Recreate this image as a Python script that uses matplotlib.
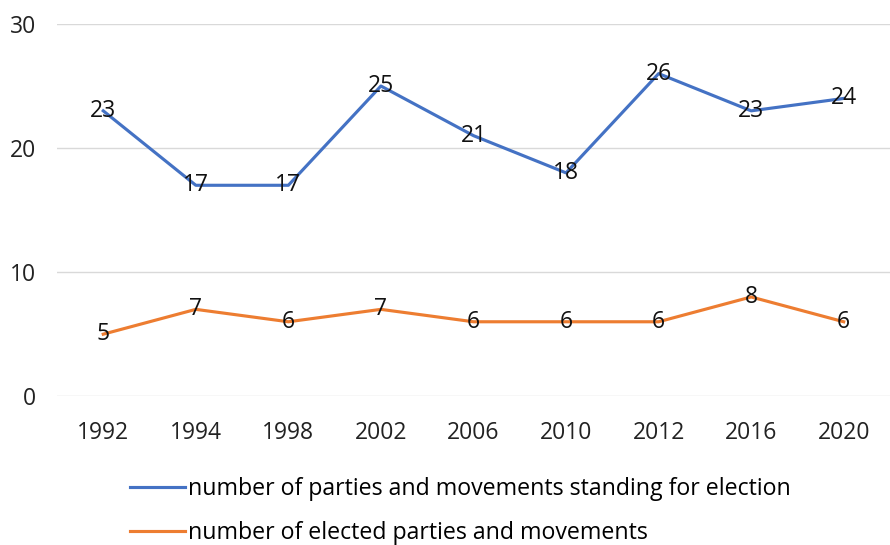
import matplotlib.pyplot as plt

years = ['1992', '1994', '1998', '2002', '2006', '2010', '2012', '2016', '2020']
standing = [23, 17, 17, 25, 21, 18, 26, 23, 24]
elected = [5, 7, 6, 7, 6, 6, 6, 8, 6]

plt.rcParams['font.family'] = ['Open Sans', 'DejaVu Sans']

fig = plt.figure(figsize=(8.9, 5.45), dpi=100)
ax = fig.add_axes([0.064, 0.273, 0.936, 0.683])

x = list(range(len(years)))
l1, = ax.plot(x, standing, color='#4472C4', lw=2.25,
              label='number of parties and movements standing for election')
l2, = ax.plot(x, elected, color='#ED7D31', lw=2.25,
              label='number of elected parties and movements')

for xi, v in zip(x, standing):
    ax.text(xi, v, str(v), ha='center', va='center', fontsize=16.5, color='#111111')
for xi, v in zip(x, elected):
    ax.text(xi, v, str(v), ha='center', va='center', fontsize=16.5, color='#111111')

ax.set_xlim(-0.5, len(years) - 0.5)
ax.set_ylim(0, 30)
ax.set_yticks([0, 10, 20, 30])
ax.set_xticks(x)
ax.set_xticklabels(years)
ax.grid(axis='y', color='#D9D9D9', lw=1)
ax.set_axisbelow(True)
for s in ax.spines.values():
    s.set_visible(False)
ax.tick_params(length=0, labelsize=16.5, colors='#222222')
ax.tick_params(axis='x', pad=18)
ax.tick_params(axis='y', pad=15)

fig.legend(handles=[l1, l2], loc='upper left', bbox_to_anchor=(0.136, 0.141),
           frameon=False, fontsize=16.7, handlelength=2.35, handletextpad=0.15,
           labelspacing=0.85, borderaxespad=0)

fig.savefig('out.png', dpi=100)
